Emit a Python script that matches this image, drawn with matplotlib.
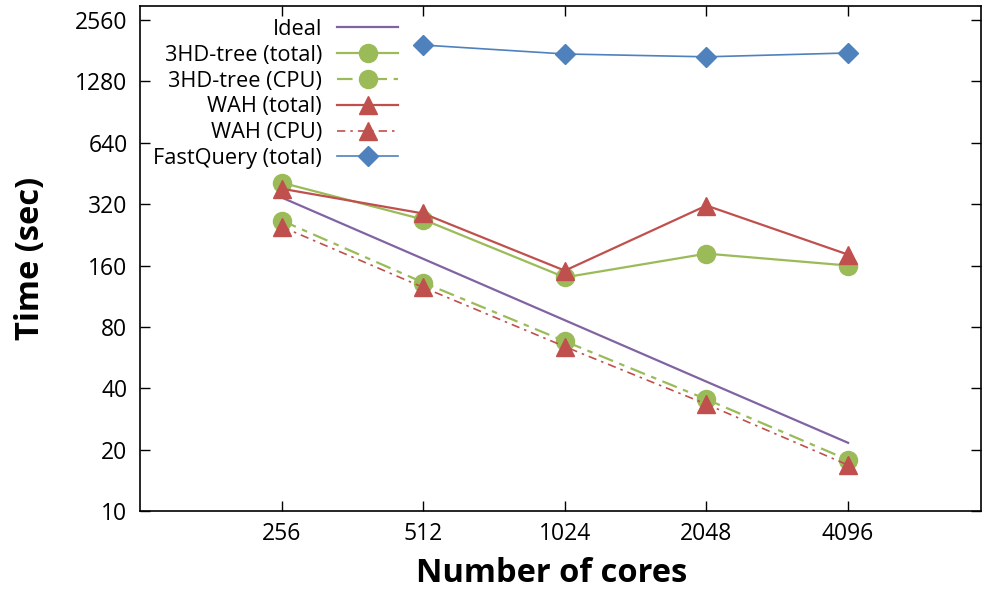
import numpy as np
import matplotlib
matplotlib.use("Agg")
import matplotlib.pyplot as plt
from matplotlib.ticker import FixedLocator, FixedFormatter, NullLocator

plt.rcParams["font.family"] = ["Open Sans", "DejaVu Sans"]

cores = [256, 512, 1024, 2048, 4096]
y_ticks = [10, 20, 40, 80, 160, 320, 640, 1280, 2560]

ideal = [345, 172.5, 86.25, 43.1, 21.6]
hd_total = [408, 269, 140, 183, 160]
hd_cpu = [266, 132, 68, 35.3, 17.8]
wah_total = [381, 288, 151, 315, 181]
wah_cpu = [248, 125, 64, 33.4, 16.8]
fastquery_total = [np.nan, 1930, 1745, 1690, 1765]

PURPLE = "#8064a2"
GREEN = "#9bbb59"
RED = "#c0504d"
BLUE = "#4f81bd"

fig = plt.figure(figsize=(9.82, 5.91), dpi=100)
ax = fig.add_axes([140 / 982, 80 / 591, 841 / 982, 505 / 591])

ax.plot(cores, ideal, color=PURPLE, lw=1.6, label="Ideal")
ax.plot(cores, hd_total, color=GREEN, lw=1.6, marker="o", ms=13, label="3HD-tree (total)")
ax.plot(cores, hd_cpu, color=GREEN, lw=1.6, dashes=(7, 3, 2.5, 3), marker="o", ms=13,
        label="3HD-tree (CPU)")
ax.plot(cores, wah_total, color=RED, lw=1.6, marker="^", ms=13, label="WAH (total)")
ax.plot(cores, wah_cpu, color=RED, lw=1.2, dashes=(5, 3, 1.5, 3), marker="^", ms=13,
        label="WAH (CPU)")
ax.plot(cores, fastquery_total, color=BLUE, lw=1.2, marker="D", ms=10, label="FastQuery (total)")

ax.set_xscale("log", base=2)
ax.set_yscale("log", base=2)
ax.set_xlim(128, 7850)
ax.set_ylim(10, 3000)

ax.xaxis.set_major_locator(FixedLocator(cores))
ax.xaxis.set_major_formatter(FixedFormatter([str(c) for c in cores]))
ax.xaxis.set_minor_locator(NullLocator())
ax.yaxis.set_major_locator(FixedLocator(y_ticks))
ax.yaxis.set_major_formatter(FixedFormatter([str(v) for v in y_ticks]))
ax.yaxis.set_minor_locator(NullLocator())

ax.tick_params(axis="both", which="major", direction="in", length=7, width=1,
               top=True, right=True, labelsize=16.5, colors="black")
ax.tick_params(axis="x", pad=8)
ax.tick_params(axis="y", pad=9)
for sp in ax.spines.values():
    sp.set_linewidth(1.2)

ax.set_xlabel("Number of cores", fontsize=23.5, fontweight="bold", labelpad=8)
ax.xaxis.label.set_x(0.49)
ax.set_ylabel("Time (sec)", fontsize=23.5, fontweight="bold", labelpad=20)

ax.legend(loc="upper left", bbox_to_anchor=(0.0, 1.0), frameon=False, markerfirst=False,
          fontsize=15.7, handlelength=2.8, labelspacing=0.22, borderaxespad=0.2,
          handletextpad=0.7)

fig.savefig("out.png", dpi=100)
